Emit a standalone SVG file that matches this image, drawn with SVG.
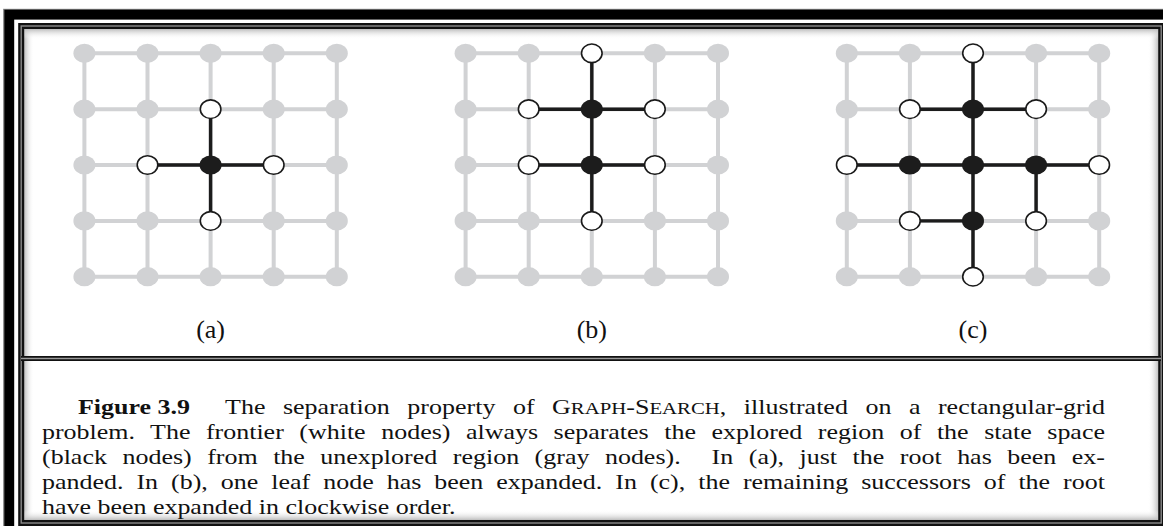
<svg xmlns="http://www.w3.org/2000/svg" xmlns:xlink="http://www.w3.org/1999/xlink" width="1163" height="526" viewBox="0 0 1163 526">
<style>
.grid{fill:none;stroke:#d1d2d4;stroke-width:4}
.edge{fill:none;stroke:#1c1c1c;stroke-width:3.4}
.lbl{font-family:"Liberation Serif","Times New Roman",serif;font-size:26px;fill:#111;text-anchor:middle}
.cap{font-family:"Liberation Serif","Times New Roman",serif;font-size:22px;fill:#111}
.sc{font-size:17.6px}
</style>
<defs>
<ellipse id="gn" rx="11" ry="9.6" fill="#d1d2d4"/>
<ellipse id="wn" rx="10.3" ry="9.3" fill="#fff" stroke="#1a1a1a" stroke-width="1.6"/>
<ellipse id="bn" rx="11" ry="9.6" fill="#1c1c1c"/>
<linearGradient id="sl" x1="0" y1="0" x2="1" y2="0"><stop offset="0" stop-color="#bdbdbd"/><stop offset="1" stop-color="#fff" stop-opacity="0"/></linearGradient>
<linearGradient id="sr" x1="1" y1="0" x2="0" y2="0"><stop offset="0" stop-color="#bdbdbd"/><stop offset="1" stop-color="#fff" stop-opacity="0"/></linearGradient>
<linearGradient id="st" x1="0" y1="0" x2="0" y2="1"><stop offset="0" stop-color="#bdbdbd"/><stop offset="1" stop-color="#fff" stop-opacity="0"/></linearGradient>
<linearGradient id="sb" x1="0" y1="1" x2="0" y2="0"><stop offset="0" stop-color="#bdbdbd"/><stop offset="1" stop-color="#fff" stop-opacity="0"/></linearGradient>
</defs>
<rect width="1163" height="526" fill="#fff"/>
<g id="frame">
<rect x="3.6" y="9.3" width="1200" height="600" fill="none" stroke="#888" stroke-width="1"/>
<rect x="9.2" y="14.6" width="1200" height="600" fill="none" stroke="#000" stroke-width="10"/>
<rect x="24" y="29" width="10" height="491" fill="url(#sl)"/>
<rect x="1148" y="29" width="10.5" height="491" fill="url(#sr)"/>
<rect x="24" y="29" width="1134" height="10" fill="url(#st)"/>
<rect x="24" y="510" width="1134" height="10" fill="url(#sb)"/>
<rect x="21.2" y="26" width="1140" height="497" fill="none" stroke="#111" stroke-width="6"/>
<rect x="21.2" y="26" width="1140" height="497" fill="none" stroke="#8a8a8a" stroke-width="1.4"/>
<line x1="21" y1="358.5" x2="1161" y2="358.5" stroke="#111" stroke-width="5"/>
<line x1="21" y1="358.5" x2="1161" y2="358.5" stroke="#9a9a9a" stroke-width="1.5"/>
</g>
<g id="connectors">
<path class="grid" d="M84.4 53.3H336.8M84.4 109.2H336.8M84.4 165H336.8M84.4 220.9H336.8M84.4 276.7H336.8M84.4 53.3V276.7M147.5 53.3V276.7M210.6 53.3V276.7M273.7 53.3V276.7M336.8 53.3V276.7"/>
<path class="grid" d="M465.6 53.3H718M465.6 109.2H718M465.6 165H718M465.6 220.9H718M465.6 276.7H718M465.6 53.3V276.7M528.7 53.3V276.7M591.8 53.3V276.7M654.9 53.3V276.7M718 53.3V276.7"/>
<path class="grid" d="M846.8 53.3H1099.2M846.8 109.2H1099.2M846.8 165H1099.2M846.8 220.9H1099.2M846.8 276.7H1099.2M846.8 53.3V276.7M909.9 53.3V276.7M973 53.3V276.7M1036.1 53.3V276.7M1099.2 53.3V276.7"/>
<path class="edge" d="M210.6 109.2V220.9M147.5 165H273.7"/>
<path class="edge" d="M591.8 53.3V220.9M528.7 109.2H654.9M528.7 165H654.9"/>
<path class="edge" d="M973 53.3V276.7M909.9 109.2H1036.1M846.8 165H1099.2M1036.1 165V220.9M909.9 220.9H973"/>
</g>
<g id="panel-a">
<g id="a-r0c0"><use href="#gn" x="84.4" y="53.3"/></g>
<g id="a-r0c1"><use href="#gn" x="147.5" y="53.3"/></g>
<g id="a-r0c2"><use href="#gn" x="210.6" y="53.3"/></g>
<g id="a-r0c3"><use href="#gn" x="273.7" y="53.3"/></g>
<g id="a-r0c4"><use href="#gn" x="336.8" y="53.3"/></g>
<g id="a-r1c0"><use href="#gn" x="84.4" y="109.2"/></g>
<g id="a-r1c1"><use href="#gn" x="147.5" y="109.2"/></g>
<g id="a-r1c2"><use href="#wn" x="210.6" y="109.2"/></g>
<g id="a-r1c3"><use href="#gn" x="273.7" y="109.2"/></g>
<g id="a-r1c4"><use href="#gn" x="336.8" y="109.2"/></g>
<g id="a-r2c0"><use href="#gn" x="84.4" y="165"/></g>
<g id="a-r2c1"><use href="#wn" x="147.5" y="165"/></g>
<g id="a-r2c2"><use href="#bn" x="210.6" y="165"/></g>
<g id="a-r2c3"><use href="#wn" x="273.7" y="165"/></g>
<g id="a-r2c4"><use href="#gn" x="336.8" y="165"/></g>
<g id="a-r3c0"><use href="#gn" x="84.4" y="220.9"/></g>
<g id="a-r3c1"><use href="#gn" x="147.5" y="220.9"/></g>
<g id="a-r3c2"><use href="#wn" x="210.6" y="220.9"/></g>
<g id="a-r3c3"><use href="#gn" x="273.7" y="220.9"/></g>
<g id="a-r3c4"><use href="#gn" x="336.8" y="220.9"/></g>
<g id="a-r4c0"><use href="#gn" x="84.4" y="276.7"/></g>
<g id="a-r4c1"><use href="#gn" x="147.5" y="276.7"/></g>
<g id="a-r4c2"><use href="#gn" x="210.6" y="276.7"/></g>
<g id="a-r4c3"><use href="#gn" x="273.7" y="276.7"/></g>
<g id="a-r4c4"><use href="#gn" x="336.8" y="276.7"/></g>
<text class="lbl" x="210.6" y="338">(a)</text>
</g>
<g id="panel-b">
<g id="b-r0c0"><use href="#gn" x="465.6" y="53.3"/></g>
<g id="b-r0c1"><use href="#gn" x="528.7" y="53.3"/></g>
<g id="b-r0c2"><use href="#wn" x="591.8" y="53.3"/></g>
<g id="b-r0c3"><use href="#gn" x="654.9" y="53.3"/></g>
<g id="b-r0c4"><use href="#gn" x="718" y="53.3"/></g>
<g id="b-r1c0"><use href="#gn" x="465.6" y="109.2"/></g>
<g id="b-r1c1"><use href="#wn" x="528.7" y="109.2"/></g>
<g id="b-r1c2"><use href="#bn" x="591.8" y="109.2"/></g>
<g id="b-r1c3"><use href="#wn" x="654.9" y="109.2"/></g>
<g id="b-r1c4"><use href="#gn" x="718" y="109.2"/></g>
<g id="b-r2c0"><use href="#gn" x="465.6" y="165"/></g>
<g id="b-r2c1"><use href="#wn" x="528.7" y="165"/></g>
<g id="b-r2c2"><use href="#bn" x="591.8" y="165"/></g>
<g id="b-r2c3"><use href="#wn" x="654.9" y="165"/></g>
<g id="b-r2c4"><use href="#gn" x="718" y="165"/></g>
<g id="b-r3c0"><use href="#gn" x="465.6" y="220.9"/></g>
<g id="b-r3c1"><use href="#gn" x="528.7" y="220.9"/></g>
<g id="b-r3c2"><use href="#wn" x="591.8" y="220.9"/></g>
<g id="b-r3c3"><use href="#gn" x="654.9" y="220.9"/></g>
<g id="b-r3c4"><use href="#gn" x="718" y="220.9"/></g>
<g id="b-r4c0"><use href="#gn" x="465.6" y="276.7"/></g>
<g id="b-r4c1"><use href="#gn" x="528.7" y="276.7"/></g>
<g id="b-r4c2"><use href="#gn" x="591.8" y="276.7"/></g>
<g id="b-r4c3"><use href="#gn" x="654.9" y="276.7"/></g>
<g id="b-r4c4"><use href="#gn" x="718" y="276.7"/></g>
<text class="lbl" x="591.8" y="338">(b)</text>
</g>
<g id="panel-c">
<g id="c-r0c0"><use href="#gn" x="846.8" y="53.3"/></g>
<g id="c-r0c1"><use href="#gn" x="909.9" y="53.3"/></g>
<g id="c-r0c2"><use href="#wn" x="973" y="53.3"/></g>
<g id="c-r0c3"><use href="#gn" x="1036.1" y="53.3"/></g>
<g id="c-r0c4"><use href="#gn" x="1099.2" y="53.3"/></g>
<g id="c-r1c0"><use href="#gn" x="846.8" y="109.2"/></g>
<g id="c-r1c1"><use href="#wn" x="909.9" y="109.2"/></g>
<g id="c-r1c2"><use href="#bn" x="973" y="109.2"/></g>
<g id="c-r1c3"><use href="#wn" x="1036.1" y="109.2"/></g>
<g id="c-r1c4"><use href="#gn" x="1099.2" y="109.2"/></g>
<g id="c-r2c0"><use href="#wn" x="846.8" y="165"/></g>
<g id="c-r2c1"><use href="#bn" x="909.9" y="165"/></g>
<g id="c-r2c2"><use href="#bn" x="973" y="165"/></g>
<g id="c-r2c3"><use href="#bn" x="1036.1" y="165"/></g>
<g id="c-r2c4"><use href="#wn" x="1099.2" y="165"/></g>
<g id="c-r3c0"><use href="#gn" x="846.8" y="220.9"/></g>
<g id="c-r3c1"><use href="#wn" x="909.9" y="220.9"/></g>
<g id="c-r3c2"><use href="#bn" x="973" y="220.9"/></g>
<g id="c-r3c3"><use href="#wn" x="1036.1" y="220.9"/></g>
<g id="c-r3c4"><use href="#gn" x="1099.2" y="220.9"/></g>
<g id="c-r4c0"><use href="#gn" x="846.8" y="276.7"/></g>
<g id="c-r4c1"><use href="#gn" x="909.9" y="276.7"/></g>
<g id="c-r4c2"><use href="#wn" x="973" y="276.7"/></g>
<g id="c-r4c3"><use href="#gn" x="1036.1" y="276.7"/></g>
<g id="c-r4c4"><use href="#gn" x="1099.2" y="276.7"/></g>
<text class="lbl" x="973" y="338">(c)</text>
</g>
<g id="caption" transform="scale(1.18,1)">
<text class="cap" x="66.1" y="414" font-weight="bold">Figure 3.9</text>
<text class="cap" x="190.7" y="414" word-spacing="9.3" textLength="745.7" lengthAdjust="spacing">The separation property of G<tspan class="sc">RAPH</tspan>-S<tspan class="sc">EARCH</tspan>, illustrated on a rectangular-grid</text>
<text class="cap" x="35.6" y="439" word-spacing="7.7" textLength="900.8" lengthAdjust="spacing">problem. The frontier (white nodes) always separates the explored region of the state space</text>
<text class="cap" x="35.6" y="464" word-spacing="7.6" textLength="900.8" lengthAdjust="spacing" xml:space="preserve">(black nodes) from the unexplored region (gray nodes).  In (a), just the root has been ex-</text>
<text class="cap" x="35.6" y="489" word-spacing="5.5" textLength="900.8" lengthAdjust="spacing">panded. In (b), one leaf node has been expanded. In (c), the remaining successors of the root</text>
<text class="cap" x="35.6" y="514">have been expanded in clockwise order.</text>
</g>
</svg>
